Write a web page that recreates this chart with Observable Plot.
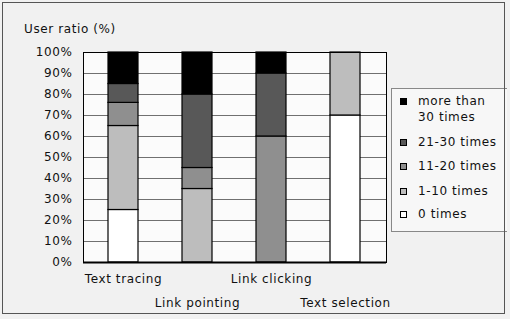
<!DOCTYPE html>
<html>
<head>
<meta charset="utf-8">
<script src="https://cdn.jsdelivr.net/npm/d3@7"></script>
<script src="https://cdn.jsdelivr.net/npm/@observablehq/plot@0.6"></script>
<style>
  html, body { margin: 0; padding: 0; background: #f1f1f1; }
  #wrap { position: relative; width: 510px; height: 319px; font-family: "DejaVu Sans", sans-serif; font-size: 12px; letter-spacing: 0.6px; color: #111; }
  #border { position: absolute; left: 2px; top: 2px; width: 503px; height: 312px; border: 1px solid #555; box-sizing: border-box; pointer-events: none; }
  #title { position: absolute; left: 24px; top: 22px; white-space: nowrap; }
  #legend { position: absolute; left: 391px; top: 88px; width: 116px; height: 144px; border: 1px solid #888; border-right: none; box-sizing: border-box; background: #f7f7f7; }
  .item { position: absolute; left: 8px; white-space: nowrap; line-height: 16px; }
  .sw { position: absolute; left: 0; width: 7px; height: 7px; border: 1px solid #000; box-sizing: border-box; }
  .lbl { position: absolute; left: 18px; }
  svg { position: absolute; left: 0; top: 0; }
</style>
</head>
<body>
<div id="wrap">
  <div id="chart"></div>
  <div id="title"></div>
  <div id="legend"></div>
  <div id="border"></div>
</div>
<script>
const tasks = ["Text tracing", "Link pointing", "Link clicking", "Text selection"];
const freqs = ["0 times", "1-10 times", "11-20 times", "21-30 times", "more than 30 times"];
const legendLabels = [["more than", "30 times"], ["21-30 times"], ["11-20 times"], ["1-10 times"], ["0 times"]];
const zeroTimes = [25, 0, 0, 70];
const oneToTen = [40, 35, 0, 30];
const elevenToTwenty = [11, 10, 60, 0];
const twentyOneToThirty = [9, 35, 30, 0];
const moreThanThirty = [15, 20, 10, 0];
const yTicks = [0, 10, 20, 30, 40, 50, 60, 70, 80, 90, 100];
const colors = ["#ffffff", "#bdbdbd", "#8f8f8f", "#585858", "#000000"];
const titleText = "User ratio (%)";

const series = [zeroTimes, oneToTen, elevenToTwenty, twentyOneToThirty, moreThanThirty];
const data = [];
freqs.forEach((f, i) => tasks.forEach((t, j) => {
  if (series[i][j] > 0) data.push({task: t, freq: f, value: series[i][j]});
}));

const evenTasks = tasks.filter((d, i) => i % 2 === 0);
const oddTasks = tasks.filter((d, i) => i % 2 === 1);

const chart = Plot.plot({
  width: 510,
  height: 319,
  marginLeft: 83,
  marginRight: 124,
  marginTop: 52,
  marginBottom: 57,
  style: {background: "transparent", fontFamily: "DejaVu Sans, sans-serif", fontSize: "12px", letterSpacing: "0.6px", color: "#111"},
  x: {domain: tasks, paddingInner: 0.59, paddingOuter: 0.32, axis: null},
  y: {domain: [0, 100], axis: null},
  color: {domain: freqs, range: colors},
  marks: [
    Plot.frame({fill: "#fbfbfb", stroke: null}),
    Plot.gridY(yTicks, {stroke: "#707070", strokeOpacity: 1, strokeWidth: 1}),
    Plot.barY(data, {x: "task", y: "value", fill: "freq", stroke: "#000", strokeWidth: 1.2}),
    Plot.axisY(yTicks, {tickSize: 0, tickPadding: 11, tickFormat: d => d + "%", label: null, fontSize: 12}),
    Plot.text(evenTasks, {x: d => d, frameAnchor: "bottom", dy: 17, lineAnchor: "middle", fontSize: 12}),
    Plot.text(oddTasks, {x: d => d, frameAnchor: "bottom", dy: 41, lineAnchor: "middle", fontSize: 12}),
    Plot.frame({stroke: "#000", strokeWidth: 1}),
    Plot.ruleY([0], {stroke: "#000", strokeWidth: 2})
  ]
});
document.getElementById("chart").appendChild(chart);
document.getElementById("title").textContent = titleText;

const legend = document.getElementById("legend");
const rowTops = [4, 45, 69, 94, 117];
const order = [4, 3, 2, 1, 0];
order.forEach((ci, k) => {
  const item = document.createElement("div");
  item.className = "item";
  item.style.top = rowTops[k] + "px";
  const sw = document.createElement("div");
  sw.className = "sw";
  sw.style.top = "5px";
  sw.style.background = colors[ci];
  item.appendChild(sw);
  const lbl = document.createElement("div");
  lbl.className = "lbl";
  lbl.innerHTML = legendLabels[k].join("<br>");
  item.appendChild(lbl);
  legend.appendChild(item);
});
</script>
</body>
</html>
